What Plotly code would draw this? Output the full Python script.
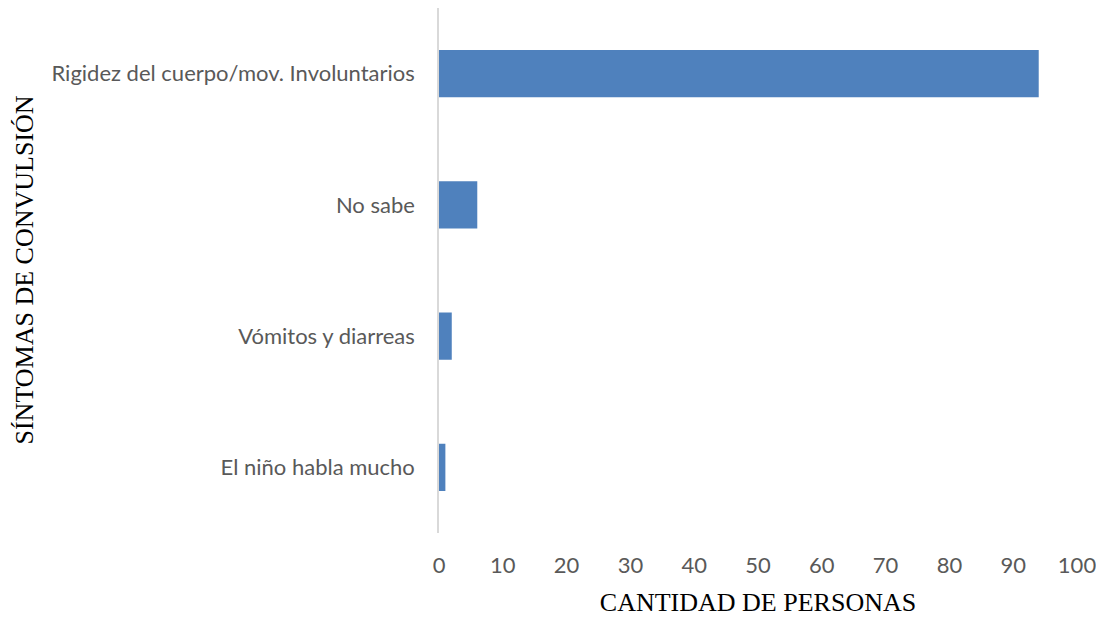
import plotly.graph_objects as go

categories = ["El niño habla mucho", "Vómitos y diarreas", "No sabe", "Rigidez del cuerpo/mov. Involuntarios"]
values = [1, 2, 6, 94]
x_ticks = [0, 10, 20, 30, 40, 50, 60, 70, 80, 90, 100]

L, R, T, B = 431, 27, 0, 84
W, H = 1096, 609

fig = go.Figure(go.Bar(
    x=values, y=categories, orientation="h",
    marker=dict(color="#4f81bd", line=dict(width=0)),
))

serif = dict(family="Liberation Serif, Times New Roman, serif", size=26, color="black")
sans = dict(family="Lato, Open Sans, sans-serif", size=22, color="#595959")

fig.update_layout(
    width=W, height=H,
    margin=dict(l=L, r=R, t=T, b=B),
    plot_bgcolor="white", paper_bgcolor="white",
    bargap=0.64,
    showlegend=False,
    xaxis=dict(
        range=[0, 100], tickvals=x_ticks, showgrid=False, zeroline=False,
        showline=False, ticks="",
        tickfont=sans,
        ticklabelstandoff=17,
        title=dict(text="CANTIDAD DE PERSONAS", font=serif, standoff=17),
    ),
    yaxis=dict(
        showgrid=False, zeroline=False, showline=True, linecolor="#d9d9d9", linewidth=1.5,
        ticks="",
        tickfont=sans,
        ticklabelstandoff=18,
    ),
)

plot_w = W - L - R
fig.add_annotation(
    text="SÍNTOMAS DE CONVULSIÓN", textangle=-90, showarrow=False,
    xref="paper", yref="paper", x=(16 - L) / plot_w, y=0.5,
    xanchor="center", yanchor="middle", font=serif,
)

fig.write_html("out.html")
